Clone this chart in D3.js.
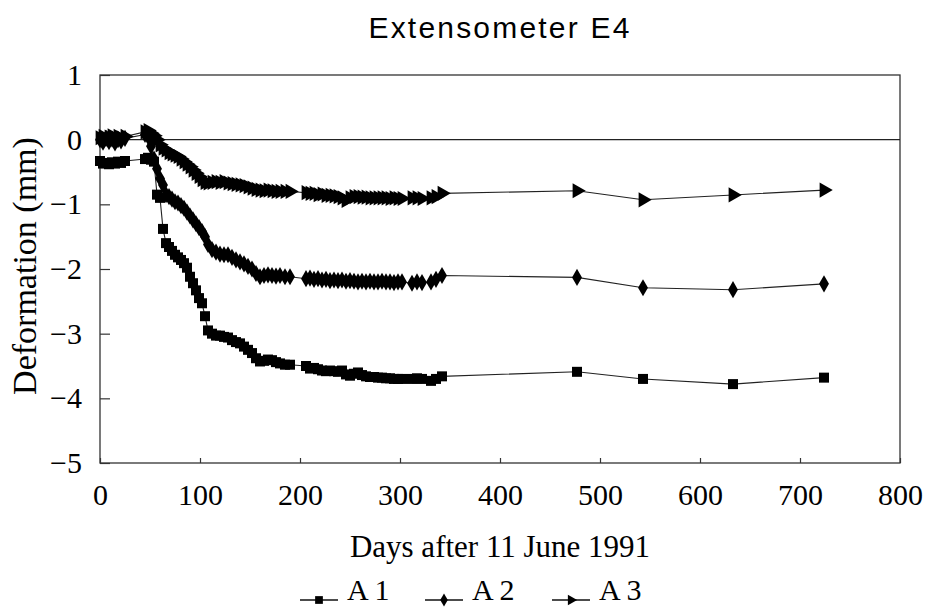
<!DOCTYPE html>
<html>
<head>
<meta charset="utf-8">
<script src="https://cdn.jsdelivr.net/npm/d3@7"></script>
<style>
  body { margin: 0; background: #fff; }
  svg { display: block; }
  .axis path { display: none; }
  .axis line { stroke: #333; stroke-width: 1.2px; }
  .axis text { font-family: "Liberation Serif", "Times New Roman", serif; font-size: 30px; fill: #000; }
</style>
</head>
<body>
<div id="chart"></div>
<script>
// measurement dates (days after 11 June 1991)
const days = [0, 3, 6, 9, 12, 15, 18, 21, 25,
  45, 48, 51, 54,
  57, 60, 63, 66, 69, 72, 75, 78, 81, 84, 87, 90, 93, 96, 99, 102, 105, 108,
  112, 116, 120, 124, 128, 132, 136, 140, 144, 148, 152, 156, 160, 164, 168, 172, 176, 180, 185, 190,
  206, 210, 214, 218, 222, 226, 230, 234, 238, 242, 246, 250, 254, 258, 262, 266, 270, 274, 278, 282, 286, 290, 294, 298, 302,
  312, 317, 322,
  331, 336, 342,
  477, 543, 633, 724];

const a1 = [-0.33, -0.37, -0.36, -0.38, -0.35, -0.37, -0.34, -0.36, -0.33,
  -0.30, -0.28, -0.31, -0.34,
  -0.85, -0.90, -1.38, -1.60, -1.66, -1.72, -1.78, -1.82, -1.86, -1.91, -1.98, -2.12, -2.22, -2.33, -2.45, -2.53, -2.73, -2.95,
  -3.00, -3.03, -3.03, -3.05, -3.06, -3.10, -3.13, -3.15, -3.20, -3.25, -3.30, -3.38, -3.43, -3.42, -3.40, -3.41, -3.44, -3.46, -3.48, -3.48,
  -3.50, -3.54, -3.53, -3.55, -3.57, -3.58, -3.57, -3.58, -3.59, -3.57, -3.63, -3.65, -3.62, -3.60, -3.64, -3.66, -3.67, -3.67, -3.68, -3.68, -3.69, -3.69, -3.70, -3.70, -3.70,
  -3.70, -3.69, -3.70,
  -3.73, -3.70, -3.66,
  -3.59, -3.70, -3.78, -3.68];

const a2 = [0.00, -0.04, 0.02, -0.03, 0.01, -0.05, 0.00, -0.02, 0.02,
  0.08, 0.05, -0.10, -0.30,
  -0.45, -0.60, -0.70, -0.85, -0.88, -0.92, -0.96, -0.98, -1.02, -1.06, -1.12, -1.18, -1.24, -1.30, -1.36, -1.42, -1.50, -1.62,
  -1.70, -1.74, -1.77, -1.78, -1.78, -1.82, -1.86, -1.89, -1.92, -1.96, -2.00, -2.07, -2.12, -2.10, -2.09, -2.10, -2.11, -2.10, -2.12, -2.12,
  -2.15, -2.14, -2.16, -2.15, -2.17, -2.16, -2.18, -2.17, -2.18, -2.17, -2.19, -2.18, -2.19, -2.20, -2.19, -2.20, -2.19, -2.20, -2.20, -2.19, -2.20, -2.20, -2.21, -2.20, -2.20,
  -2.22, -2.20, -2.21,
  -2.20, -2.16, -2.10,
  -2.13, -2.29, -2.32, -2.23];

const a3 = [0.03, 0.05, 0.00, 0.04, 0.06, 0.02, 0.05, 0.03, 0.05,
  0.12, 0.14, 0.10, 0.06,
  0.00, -0.08, -0.13, -0.16, -0.20, -0.22, -0.24, -0.26, -0.30, -0.34, -0.38, -0.42, -0.47, -0.52, -0.57, -0.62, -0.66, -0.67,
  -0.66, -0.65, -0.66, -0.65, -0.67, -0.68, -0.69, -0.70, -0.71, -0.73, -0.75, -0.77, -0.78, -0.79, -0.78, -0.79, -0.80, -0.80, -0.80, -0.80,
  -0.82, -0.83, -0.83, -0.85, -0.84, -0.86, -0.86, -0.87, -0.88, -0.90, -0.94, -0.90, -0.88, -0.88, -0.89, -0.89, -0.90, -0.90, -0.90, -0.90, -0.90, -0.91, -0.90, -0.91, -0.91,
  -0.90, -0.90, -0.91,
  -0.90, -0.88, -0.83,
  -0.79, -0.93, -0.855, -0.78];

const seriesNames = ["A 1", "A 2", "A 3"];
const xTicks = [0, 100, 200, 300, 400, 500, 600, 700, 800];
const yTicks = [1, 0, -1, -2, -3, -4, -5];

const width = 930, height = 612;
const svg = d3.select("#chart").append("svg")
  .attr("width", width)
  .attr("height", height);

const x = d3.scaleLinear().domain([0, 800]).range([100, 900]);
const y = d3.scaleLinear().domain([-5, 1]).range([463, 75]);

// frame
svg.append("rect")
  .attr("x", x(0)).attr("y", y(1))
  .attr("width", x(800) - x(0)).attr("height", y(-5) - y(1))
  .style("fill", "none").style("stroke", "#333").style("stroke-width", "1.3px");

// zero line
svg.append("line")
  .attr("x1", x(0)).attr("x2", x(800))
  .attr("y1", y(0)).attr("y2", y(0))
  .style("stroke", "#222").style("stroke-width", "1.2px");

let xAxis = d3.axisBottom(x).tickValues(xTicks).tickSize(-5).tickPadding(21).tickFormat(d3.format("d"));
svg.append("g")
  .attr("class", "x axis")
  .attr("transform", "translate(0," + y(-5) + ")")
  .call(xAxis);

let yAxis = d3.axisLeft(y).tickValues(yTicks).tickSize(-10).tickPadding(18).tickFormat(d3.format("d"));
svg.append("g")
  .attr("class", "y axis")
  .attr("transform", "translate(" + x(0) + ",0)")
  .call(yAxis);

// titles
svg.append("text")
  .attr("x", 500).attr("y", 38)
  .attr("text-anchor", "middle")
  .style("font-family", "'Liberation Sans', Arial, sans-serif")
  .style("font-size", "30px")
  .style("letter-spacing", "2.2px")
  .text("Extensometer E4");

svg.append("text")
  .attr("x", 500).attr("y", 557)
  .attr("text-anchor", "middle")
  .style("font-family", "'Liberation Serif', 'Times New Roman', serif")
  .style("font-size", "31px")
  .text("Days after 11 June 1991");

svg.append("text")
  .attr("transform", "translate(36,266) rotate(-90)")
  .attr("text-anchor", "middle")
  .style("font-family", "'Liberation Serif', 'Times New Roman', serif")
  .style("font-size", "34px")
  .text("Deformation (mm)");

// markers
const shapes = [
  d3.symbol().type(d3.symbolSquare).size(100),
  d3.symbol().type(d3.symbolDiamond).size(85),
  d3.symbol().type(d3.symbolTriangle).size(100)
];
const rot = [0, 0, 90];
const allSeries = [a1, a2, a3];

let line = d3.line()
  .x(d => x(d[0]))
  .y(d => y(d[1]));

allSeries.forEach((vals, i) => {
  let pts = days.map((d, j) => [d, vals[j]]);
  let g = svg.append("g").attr("class", "series s" + i);
  g.append("path")
    .attr("d", line(pts))
    .style("fill", "none")
    .style("stroke", "#222")
    .style("stroke-width", "1.1px");
  g.selectAll("path.mark")
    .data(pts)
    .enter().append("path")
    .attr("class", "mark")
    .attr("d", shapes[i])
    .attr("transform", d => "translate(" + x(d[0]) + "," + y(d[1]) + ") rotate(" + rot[i] + ")")
    .style("fill", "#000");
});

// legend
const legendX = [300, 425, 552];
const legendY = 600;
const legendShapes = [
  d3.symbol().type(d3.symbolSquare).size(60),
  d3.symbol().type(d3.symbolDiamond).size(50),
  d3.symbol().type(d3.symbolTriangle).size(50)
];
seriesNames.forEach((name, i) => {
  let g = svg.append("g").attr("transform", "translate(" + legendX[i] + "," + legendY + ")");
  g.append("line")
    .attr("x1", 0).attr("x2", 38)
    .attr("y1", 0).attr("y2", 0)
    .style("stroke", "#111").style("stroke-width", "1.3px");
  g.append("path")
    .attr("d", legendShapes[i])
    .attr("transform", "translate(19,0) rotate(" + rot[i] + ")")
    .style("fill", "#000");
  g.append("text")
    .attr("x", 47).attr("y", 0)
    .style("font-family", "'Liberation Serif', 'Times New Roman', serif")
    .style("font-size", "30px")
    .text(name);
});
</script>
</body>
</html>
